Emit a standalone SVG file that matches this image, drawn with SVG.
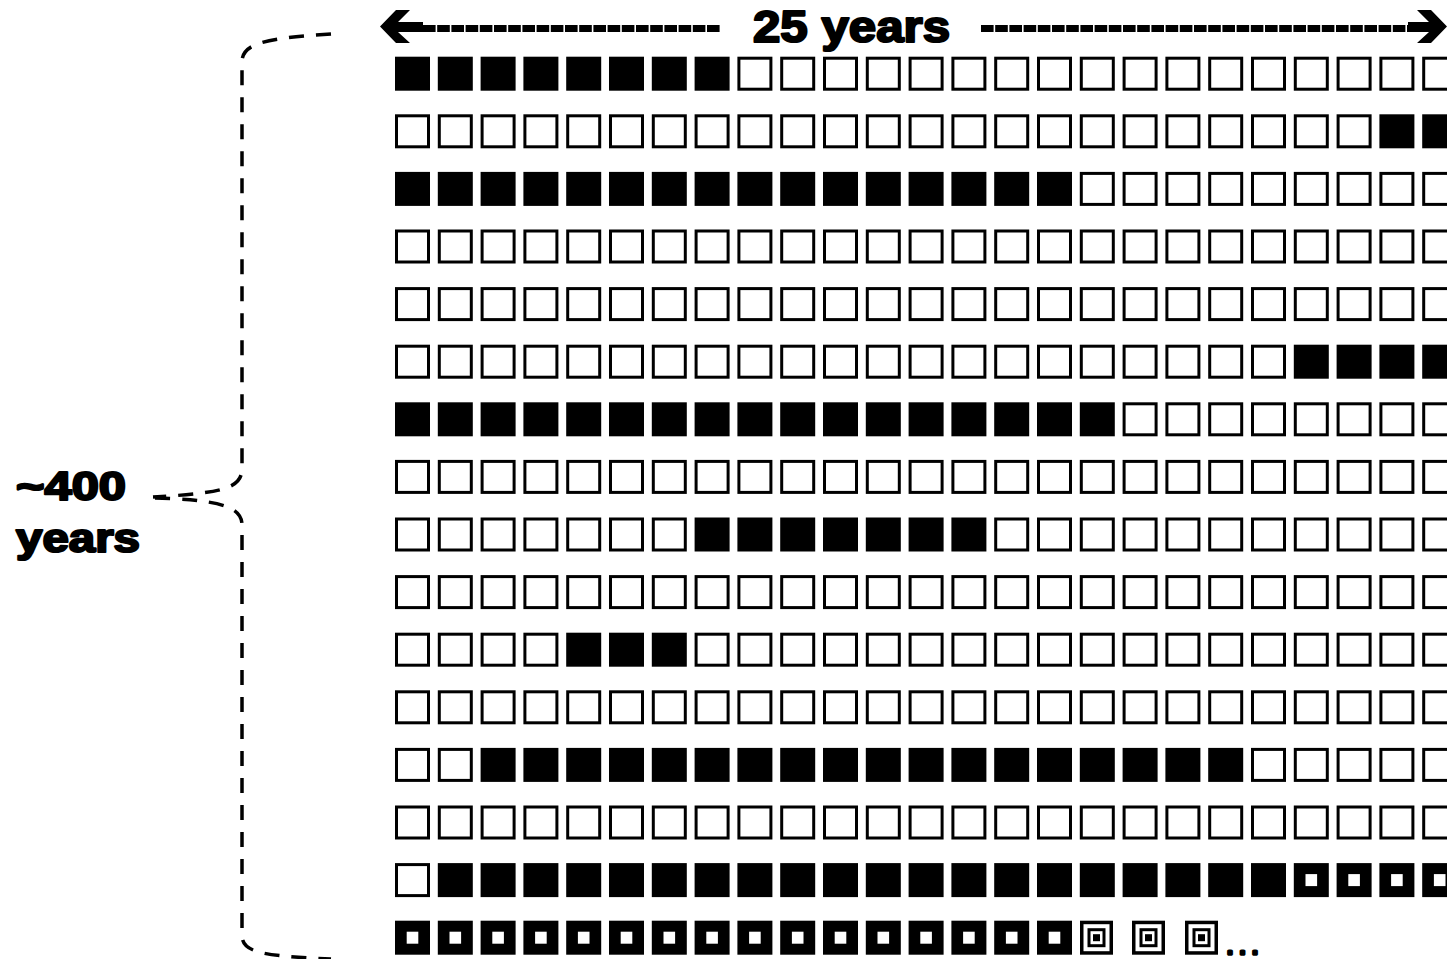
<svg xmlns="http://www.w3.org/2000/svg" xmlns:xlink="http://www.w3.org/1999/xlink" width="1447" height="959" viewBox="0 0 1447 959">
<style>
.lbl{font-family:"Liberation Sans",Arial,Helvetica,sans-serif;font-weight:bold;fill:#000;stroke:#000;stroke-width:2.2;stroke-linejoin:round}
.dots{font-family:"Liberation Sans",Arial,Helvetica,sans-serif;font-weight:bold;fill:#000;stroke:#000;stroke-width:3.4;stroke-linejoin:round;letter-spacing:7.5px}
.brace{fill:none;stroke:#000;stroke-width:3.5;stroke-dasharray:15 12}
.shaft{fill:none;stroke:#000;stroke-width:7;stroke-dasharray:12.6 1.6}
</style>
<defs>
<rect id="f" width="35" height="34" fill="#000"/>
<rect id="e" x="1.5" y="1.5" width="32" height="31" fill="#fff" stroke="#000" stroke-width="3"/>
<g id="h"><rect width="35" height="34" fill="#000"/><rect x="11.7" y="11" width="11.6" height="12" fill="#fff"/></g>
<g id="t"><rect x="1.75" y="1.75" width="29.5" height="30.5" fill="#fff" stroke="#000" stroke-width="3.5"/><rect x="9" y="9" width="15" height="16" fill="none" stroke="#000" stroke-width="3"/><rect x="13" y="13.5" width="7" height="7" fill="#000"/></g>
</defs>
<rect width="1447" height="959" fill="#fff"/>

<g id="connectors">
<path class="shaft" d="M423,28.5 H720"/>
<path class="shaft" d="M981,28.5 H1409"/>
<polygon points="380,26.5 396,10 410,10 398,22 423,22 423,32 398,32 410,43 396,43" fill="#000"/>
<polygon points="1447,26.5 1431,10 1417,10 1429,22 1408,22 1408,32 1429,32 1417,43 1431,43" fill="#000"/>
<path class="brace" d="M331,34 C270,38 242,42 242,62 L242,468 C242,488 225,493 153,497"/>
<path class="brace" d="M155,498 C215,500 242,505 242,525 L242,935 C242,952 260,956 331,959"/>
</g>

<g id="label-top"><text class="lbl" x="753" y="42" font-size="44" textLength="197" lengthAdjust="spacingAndGlyphs">25 years</text></g>
<g id="label-left">
<text class="lbl" x="16" y="500" font-size="40" textLength="110" lengthAdjust="spacingAndGlyphs">~400</text>
<text class="lbl" x="16" y="552" font-size="40" textLength="124" lengthAdjust="spacingAndGlyphs">years</text>
</g>

<g id="row-1" transform="translate(0,56.7)">
<use href="#f" x="395"/><use href="#f" x="437.8"/><use href="#f" x="480.6"/><use href="#f" x="523.4"/><use href="#f" x="566.2"/><use href="#f" x="609"/><use href="#f" x="651.8"/><use href="#f" x="694.6"/><use href="#e" x="737.4"/><use href="#e" x="780.2"/><use href="#e" x="823"/><use href="#e" x="865.8"/><use href="#e" x="908.6"/><use href="#e" x="951.4"/><use href="#e" x="994.2"/><use href="#e" x="1037"/><use href="#e" x="1079.8"/><use href="#e" x="1122.6"/><use href="#e" x="1165.4"/><use href="#e" x="1208.2"/><use href="#e" x="1251"/><use href="#e" x="1293.8"/><use href="#e" x="1336.6"/><use href="#e" x="1379.4"/><use href="#e" x="1422.2"/>
</g>
<g id="row-2" transform="translate(0,114.3)">
<use href="#e" x="395"/><use href="#e" x="437.8"/><use href="#e" x="480.6"/><use href="#e" x="523.4"/><use href="#e" x="566.2"/><use href="#e" x="609"/><use href="#e" x="651.8"/><use href="#e" x="694.6"/><use href="#e" x="737.4"/><use href="#e" x="780.2"/><use href="#e" x="823"/><use href="#e" x="865.8"/><use href="#e" x="908.6"/><use href="#e" x="951.4"/><use href="#e" x="994.2"/><use href="#e" x="1037"/><use href="#e" x="1079.8"/><use href="#e" x="1122.6"/><use href="#e" x="1165.4"/><use href="#e" x="1208.2"/><use href="#e" x="1251"/><use href="#e" x="1293.8"/><use href="#e" x="1336.6"/><use href="#f" x="1379.4"/><use href="#f" x="1422.2"/>
</g>
<g id="row-3" transform="translate(0,171.9)">
<use href="#f" x="395"/><use href="#f" x="437.8"/><use href="#f" x="480.6"/><use href="#f" x="523.4"/><use href="#f" x="566.2"/><use href="#f" x="609"/><use href="#f" x="651.8"/><use href="#f" x="694.6"/><use href="#f" x="737.4"/><use href="#f" x="780.2"/><use href="#f" x="823"/><use href="#f" x="865.8"/><use href="#f" x="908.6"/><use href="#f" x="951.4"/><use href="#f" x="994.2"/><use href="#f" x="1037"/><use href="#e" x="1079.8"/><use href="#e" x="1122.6"/><use href="#e" x="1165.4"/><use href="#e" x="1208.2"/><use href="#e" x="1251"/><use href="#e" x="1293.8"/><use href="#e" x="1336.6"/><use href="#e" x="1379.4"/><use href="#e" x="1422.2"/>
</g>
<g id="row-4" transform="translate(0,229.5)">
<use href="#e" x="395"/><use href="#e" x="437.8"/><use href="#e" x="480.6"/><use href="#e" x="523.4"/><use href="#e" x="566.2"/><use href="#e" x="609"/><use href="#e" x="651.8"/><use href="#e" x="694.6"/><use href="#e" x="737.4"/><use href="#e" x="780.2"/><use href="#e" x="823"/><use href="#e" x="865.8"/><use href="#e" x="908.6"/><use href="#e" x="951.4"/><use href="#e" x="994.2"/><use href="#e" x="1037"/><use href="#e" x="1079.8"/><use href="#e" x="1122.6"/><use href="#e" x="1165.4"/><use href="#e" x="1208.2"/><use href="#e" x="1251"/><use href="#e" x="1293.8"/><use href="#e" x="1336.6"/><use href="#e" x="1379.4"/><use href="#e" x="1422.2"/>
</g>
<g id="row-5" transform="translate(0,287.1)">
<use href="#e" x="395"/><use href="#e" x="437.8"/><use href="#e" x="480.6"/><use href="#e" x="523.4"/><use href="#e" x="566.2"/><use href="#e" x="609"/><use href="#e" x="651.8"/><use href="#e" x="694.6"/><use href="#e" x="737.4"/><use href="#e" x="780.2"/><use href="#e" x="823"/><use href="#e" x="865.8"/><use href="#e" x="908.6"/><use href="#e" x="951.4"/><use href="#e" x="994.2"/><use href="#e" x="1037"/><use href="#e" x="1079.8"/><use href="#e" x="1122.6"/><use href="#e" x="1165.4"/><use href="#e" x="1208.2"/><use href="#e" x="1251"/><use href="#e" x="1293.8"/><use href="#e" x="1336.6"/><use href="#e" x="1379.4"/><use href="#e" x="1422.2"/>
</g>
<g id="row-6" transform="translate(0,344.7)">
<use href="#e" x="395"/><use href="#e" x="437.8"/><use href="#e" x="480.6"/><use href="#e" x="523.4"/><use href="#e" x="566.2"/><use href="#e" x="609"/><use href="#e" x="651.8"/><use href="#e" x="694.6"/><use href="#e" x="737.4"/><use href="#e" x="780.2"/><use href="#e" x="823"/><use href="#e" x="865.8"/><use href="#e" x="908.6"/><use href="#e" x="951.4"/><use href="#e" x="994.2"/><use href="#e" x="1037"/><use href="#e" x="1079.8"/><use href="#e" x="1122.6"/><use href="#e" x="1165.4"/><use href="#e" x="1208.2"/><use href="#e" x="1251"/><use href="#f" x="1293.8"/><use href="#f" x="1336.6"/><use href="#f" x="1379.4"/><use href="#f" x="1422.2"/>
</g>
<g id="row-7" transform="translate(0,402.3)">
<use href="#f" x="395"/><use href="#f" x="437.8"/><use href="#f" x="480.6"/><use href="#f" x="523.4"/><use href="#f" x="566.2"/><use href="#f" x="609"/><use href="#f" x="651.8"/><use href="#f" x="694.6"/><use href="#f" x="737.4"/><use href="#f" x="780.2"/><use href="#f" x="823"/><use href="#f" x="865.8"/><use href="#f" x="908.6"/><use href="#f" x="951.4"/><use href="#f" x="994.2"/><use href="#f" x="1037"/><use href="#f" x="1079.8"/><use href="#e" x="1122.6"/><use href="#e" x="1165.4"/><use href="#e" x="1208.2"/><use href="#e" x="1251"/><use href="#e" x="1293.8"/><use href="#e" x="1336.6"/><use href="#e" x="1379.4"/><use href="#e" x="1422.2"/>
</g>
<g id="row-8" transform="translate(0,459.9)">
<use href="#e" x="395"/><use href="#e" x="437.8"/><use href="#e" x="480.6"/><use href="#e" x="523.4"/><use href="#e" x="566.2"/><use href="#e" x="609"/><use href="#e" x="651.8"/><use href="#e" x="694.6"/><use href="#e" x="737.4"/><use href="#e" x="780.2"/><use href="#e" x="823"/><use href="#e" x="865.8"/><use href="#e" x="908.6"/><use href="#e" x="951.4"/><use href="#e" x="994.2"/><use href="#e" x="1037"/><use href="#e" x="1079.8"/><use href="#e" x="1122.6"/><use href="#e" x="1165.4"/><use href="#e" x="1208.2"/><use href="#e" x="1251"/><use href="#e" x="1293.8"/><use href="#e" x="1336.6"/><use href="#e" x="1379.4"/><use href="#e" x="1422.2"/>
</g>
<g id="row-9" transform="translate(0,517.5)">
<use href="#e" x="395"/><use href="#e" x="437.8"/><use href="#e" x="480.6"/><use href="#e" x="523.4"/><use href="#e" x="566.2"/><use href="#e" x="609"/><use href="#e" x="651.8"/><use href="#f" x="694.6"/><use href="#f" x="737.4"/><use href="#f" x="780.2"/><use href="#f" x="823"/><use href="#f" x="865.8"/><use href="#f" x="908.6"/><use href="#f" x="951.4"/><use href="#e" x="994.2"/><use href="#e" x="1037"/><use href="#e" x="1079.8"/><use href="#e" x="1122.6"/><use href="#e" x="1165.4"/><use href="#e" x="1208.2"/><use href="#e" x="1251"/><use href="#e" x="1293.8"/><use href="#e" x="1336.6"/><use href="#e" x="1379.4"/><use href="#e" x="1422.2"/>
</g>
<g id="row-10" transform="translate(0,575.1)">
<use href="#e" x="395"/><use href="#e" x="437.8"/><use href="#e" x="480.6"/><use href="#e" x="523.4"/><use href="#e" x="566.2"/><use href="#e" x="609"/><use href="#e" x="651.8"/><use href="#e" x="694.6"/><use href="#e" x="737.4"/><use href="#e" x="780.2"/><use href="#e" x="823"/><use href="#e" x="865.8"/><use href="#e" x="908.6"/><use href="#e" x="951.4"/><use href="#e" x="994.2"/><use href="#e" x="1037"/><use href="#e" x="1079.8"/><use href="#e" x="1122.6"/><use href="#e" x="1165.4"/><use href="#e" x="1208.2"/><use href="#e" x="1251"/><use href="#e" x="1293.8"/><use href="#e" x="1336.6"/><use href="#e" x="1379.4"/><use href="#e" x="1422.2"/>
</g>
<g id="row-11" transform="translate(0,632.7)">
<use href="#e" x="395"/><use href="#e" x="437.8"/><use href="#e" x="480.6"/><use href="#e" x="523.4"/><use href="#f" x="566.2"/><use href="#f" x="609"/><use href="#f" x="651.8"/><use href="#e" x="694.6"/><use href="#e" x="737.4"/><use href="#e" x="780.2"/><use href="#e" x="823"/><use href="#e" x="865.8"/><use href="#e" x="908.6"/><use href="#e" x="951.4"/><use href="#e" x="994.2"/><use href="#e" x="1037"/><use href="#e" x="1079.8"/><use href="#e" x="1122.6"/><use href="#e" x="1165.4"/><use href="#e" x="1208.2"/><use href="#e" x="1251"/><use href="#e" x="1293.8"/><use href="#e" x="1336.6"/><use href="#e" x="1379.4"/><use href="#e" x="1422.2"/>
</g>
<g id="row-12" transform="translate(0,690.3)">
<use href="#e" x="395"/><use href="#e" x="437.8"/><use href="#e" x="480.6"/><use href="#e" x="523.4"/><use href="#e" x="566.2"/><use href="#e" x="609"/><use href="#e" x="651.8"/><use href="#e" x="694.6"/><use href="#e" x="737.4"/><use href="#e" x="780.2"/><use href="#e" x="823"/><use href="#e" x="865.8"/><use href="#e" x="908.6"/><use href="#e" x="951.4"/><use href="#e" x="994.2"/><use href="#e" x="1037"/><use href="#e" x="1079.8"/><use href="#e" x="1122.6"/><use href="#e" x="1165.4"/><use href="#e" x="1208.2"/><use href="#e" x="1251"/><use href="#e" x="1293.8"/><use href="#e" x="1336.6"/><use href="#e" x="1379.4"/><use href="#e" x="1422.2"/>
</g>
<g id="row-13" transform="translate(0,747.9)">
<use href="#e" x="395"/><use href="#e" x="437.8"/><use href="#f" x="480.6"/><use href="#f" x="523.4"/><use href="#f" x="566.2"/><use href="#f" x="609"/><use href="#f" x="651.8"/><use href="#f" x="694.6"/><use href="#f" x="737.4"/><use href="#f" x="780.2"/><use href="#f" x="823"/><use href="#f" x="865.8"/><use href="#f" x="908.6"/><use href="#f" x="951.4"/><use href="#f" x="994.2"/><use href="#f" x="1037"/><use href="#f" x="1079.8"/><use href="#f" x="1122.6"/><use href="#f" x="1165.4"/><use href="#f" x="1208.2"/><use href="#e" x="1251"/><use href="#e" x="1293.8"/><use href="#e" x="1336.6"/><use href="#e" x="1379.4"/><use href="#e" x="1422.2"/>
</g>
<g id="row-14" transform="translate(0,805.5)">
<use href="#e" x="395"/><use href="#e" x="437.8"/><use href="#e" x="480.6"/><use href="#e" x="523.4"/><use href="#e" x="566.2"/><use href="#e" x="609"/><use href="#e" x="651.8"/><use href="#e" x="694.6"/><use href="#e" x="737.4"/><use href="#e" x="780.2"/><use href="#e" x="823"/><use href="#e" x="865.8"/><use href="#e" x="908.6"/><use href="#e" x="951.4"/><use href="#e" x="994.2"/><use href="#e" x="1037"/><use href="#e" x="1079.8"/><use href="#e" x="1122.6"/><use href="#e" x="1165.4"/><use href="#e" x="1208.2"/><use href="#e" x="1251"/><use href="#e" x="1293.8"/><use href="#e" x="1336.6"/><use href="#e" x="1379.4"/><use href="#e" x="1422.2"/>
</g>
<g id="row-15" transform="translate(0,863.1)">
<use href="#e" x="395"/><use href="#f" x="437.8"/><use href="#f" x="480.6"/><use href="#f" x="523.4"/><use href="#f" x="566.2"/><use href="#f" x="609"/><use href="#f" x="651.8"/><use href="#f" x="694.6"/><use href="#f" x="737.4"/><use href="#f" x="780.2"/><use href="#f" x="823"/><use href="#f" x="865.8"/><use href="#f" x="908.6"/><use href="#f" x="951.4"/><use href="#f" x="994.2"/><use href="#f" x="1037"/><use href="#f" x="1079.8"/><use href="#f" x="1122.6"/><use href="#f" x="1165.4"/><use href="#f" x="1208.2"/><use href="#f" x="1251"/><use href="#h" x="1293.8"/><use href="#h" x="1336.6"/><use href="#h" x="1379.4"/><use href="#h" x="1422.2"/>
</g>
<g id="row-16" transform="translate(0,920.7)">
<use href="#h" x="395"/><use href="#h" x="437.8"/><use href="#h" x="480.6"/><use href="#h" x="523.4"/><use href="#h" x="566.2"/><use href="#h" x="609"/><use href="#h" x="651.8"/><use href="#h" x="694.6"/><use href="#h" x="737.4"/><use href="#h" x="780.2"/><use href="#h" x="823"/><use href="#h" x="865.8"/><use href="#h" x="908.6"/><use href="#h" x="951.4"/><use href="#h" x="994.2"/><use href="#h" x="1037"/><use href="#t" x="1080"/><use href="#t" x="1132"/><use href="#t" x="1185"/>
<text class="dots" x="1227.5" y="33.3" font-size="18">...</text>
</g>
</svg>
